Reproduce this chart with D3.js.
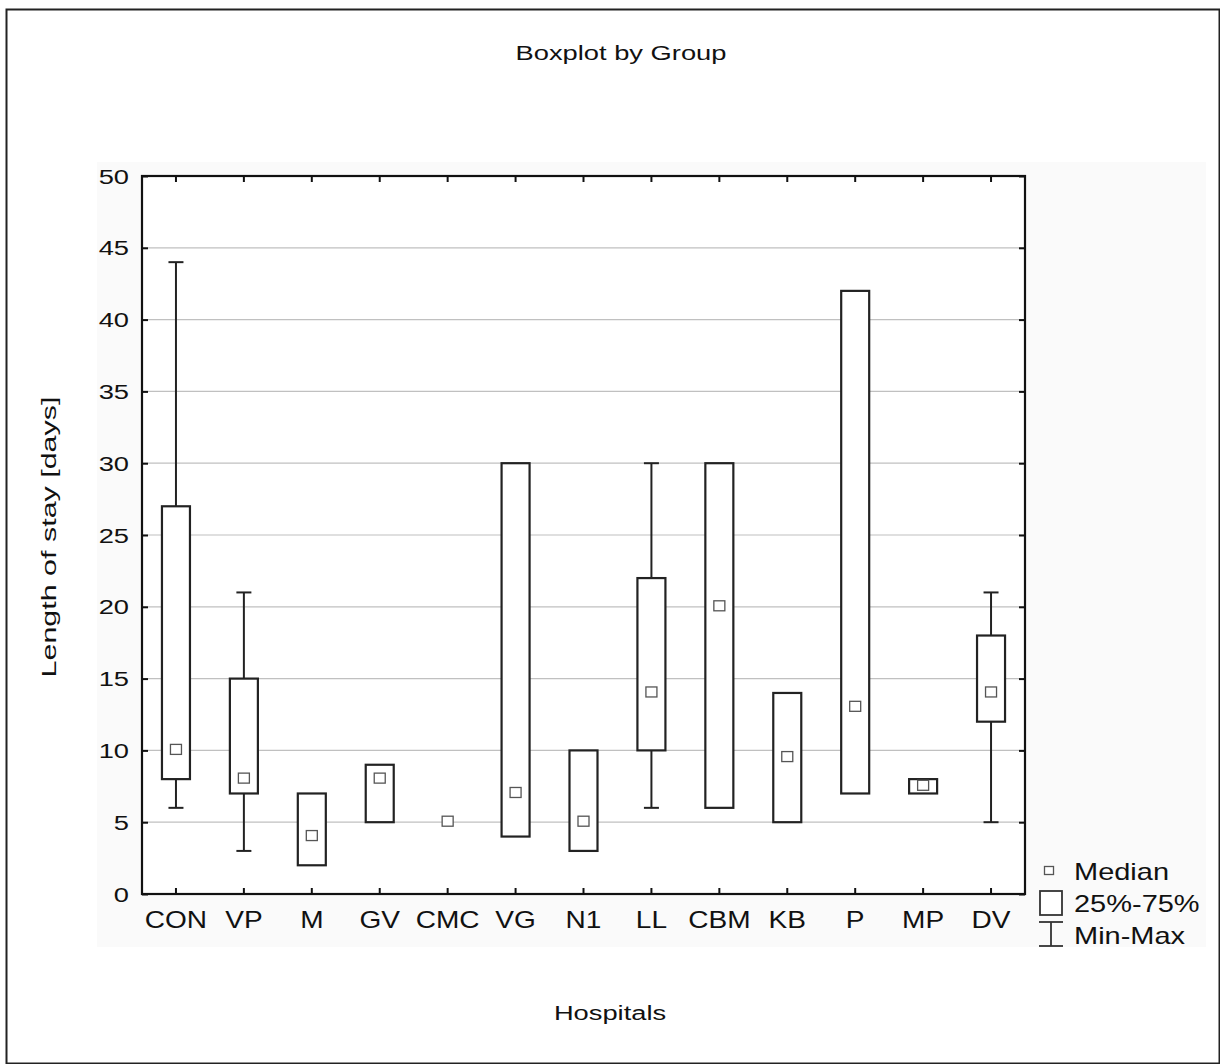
<!DOCTYPE html>
<html><head><meta charset="utf-8">
<script src="https://cdn.jsdelivr.net/npm/d3@7"></script>
<style>body{margin:0;background:#fff}svg{display:block}text{font-family:"Liberation Sans",Arial,sans-serif;fill:#111}</style>
</head><body>
<script>
const categories = ["CON","VP","M","GV","CMC","VG","N1","LL","CBM","KB","P","MP","DV"];
const minVals    = [6, 3, 2, 5, 5, 4, 3, 6, 6, 5, 7, 7, 5];
const q1Vals     = [8, 7, 2, 5, 5, 4, 3, 10, 6, 5, 7, 7, 12];
const medianVals = [10, 8, 4, 8, 5, 7, 5, 14, 20, 9.5, 13, 7.5, 14];
const q3Vals     = [27, 15, 7, 9, 5, 30, 10, 22, 30, 14, 42, 8, 18];
const maxVals    = [44, 21, 7, 9, 5, 30, 10, 30, 30, 14, 42, 8, 21];
const yTicks = [0,5,10,15,20,25,30,35,40,45,50];
const legendLabels = ["Median","25%-75%","Min-Max"];

const W=1220,H=1064;
const svg=d3.select("body").append("svg").attr("width",W).attr("height",H);
const m={l:142,r:1025,t:176,b:894};

svg.append("rect").attr("x",6.5).attr("y",9.5).attr("width",1213).attr("height",1054)
  .attr("fill","#fff").attr("stroke","#222").attr("stroke-width",2);
svg.append("rect").attr("x",97).attr("y",162).attr("width",1109).attr("height",785).attr("fill","#fafafa");
svg.append("rect").attr("x",m.l).attr("y",m.t).attr("width",m.r-m.l).attr("height",m.b-m.t).attr("fill","#fff");

const x=d3.scaleBand().domain(categories).range([m.l,m.r]);
const y=d3.scaleLinear().domain([0,50]).range([m.b,m.t]);

// grid
svg.append("g").selectAll("line").data(yTicks.filter(d=>d>0&&d<50)).join("line")
  .attr("x1",m.l).attr("x2",m.r).attr("y1",d=>y(d)).attr("y2",d=>y(d))
  .attr("stroke","#c0c0c0").attr("stroke-width",1.2);

// axes
const tickStyle=g=>{g.select(".domain").remove();g.selectAll(".tick line").attr("stroke","#111").attr("stroke-width",2);g.selectAll("text").remove();};
svg.append("g").attr("transform",`translate(0,${m.b})`).call(d3.axisTop(x).tickSize(6)).call(tickStyle);
svg.append("g").attr("transform",`translate(0,${m.t})`).call(d3.axisBottom(x).tickSize(6)).call(tickStyle);
svg.append("g").attr("transform",`translate(${m.l},0)`).call(d3.axisRight(y).tickValues(yTicks).tickSize(6)).call(tickStyle);
svg.append("g").attr("transform",`translate(${m.r},0)`).call(d3.axisLeft(y).tickValues(yTicks).tickSize(6)).call(tickStyle);

// tick labels (reference text is horizontally stretched)
svg.append("g").selectAll("text").data(yTicks).join("text")
  .attr("transform",d=>`translate(${m.l-13},${y(d)+7.5}) scale(1.3,1)`).attr("text-anchor","end").attr("font-size",21).text(d=>d);
svg.append("g").selectAll("text").data(categories).join("text")
  .attr("transform",d=>`translate(${x(d)+x.bandwidth()/2},928) scale(1.22,1)`).attr("text-anchor","middle").attr("font-size",23).text(d=>d);

// boxes
const bw=28, cw=15;
const g=svg.append("g");
categories.forEach((c,i)=>{
  const cx=x(c)+x.bandwidth()/2;
  if(maxVals[i]>q3Vals[i]){
    g.append("line").attr("x1",cx).attr("x2",cx).attr("y1",y(q3Vals[i])).attr("y2",y(maxVals[i])).attr("stroke","#222").attr("stroke-width",2);
    g.append("line").attr("x1",cx-cw/2).attr("x2",cx+cw/2).attr("y1",y(maxVals[i])).attr("y2",y(maxVals[i])).attr("stroke","#222").attr("stroke-width",2);
  }
  if(minVals[i]<q1Vals[i]){
    g.append("line").attr("x1",cx).attr("x2",cx).attr("y1",y(q1Vals[i])).attr("y2",y(minVals[i])).attr("stroke","#222").attr("stroke-width",2);
    g.append("line").attr("x1",cx-cw/2).attr("x2",cx+cw/2).attr("y1",y(minVals[i])).attr("y2",y(minVals[i])).attr("stroke","#222").attr("stroke-width",2);
  }
  if(q3Vals[i]>q1Vals[i]){
    g.append("rect").attr("x",cx-bw/2).attr("y",y(q3Vals[i])).attr("width",bw).attr("height",y(q1Vals[i])-y(q3Vals[i]))
      .attr("fill","#fff").attr("stroke","#222").attr("stroke-width",2.2);
  }
  g.append("rect").attr("x",cx-5.5).attr("y",y(medianVals[i])-6).attr("width",11).attr("height",10)
    .attr("fill","#fff").attr("stroke","#555").attr("stroke-width",1.3);
});

// plot frame
svg.append("rect").attr("x",m.l).attr("y",m.t).attr("width",m.r-m.l).attr("height",m.b-m.t)
  .attr("fill","none").attr("stroke","#111").attr("stroke-width",2.2);

// titles
svg.append("text").attr("transform","translate(621,60) scale(1.3,1)").attr("text-anchor","middle").attr("font-size",21).text("Boxplot by Group");
svg.append("text").attr("transform","translate(56,537) rotate(-90) scale(1.45,1)").attr("text-anchor","middle").attr("font-size",21).text("Length of stay [days]");
svg.append("text").attr("transform","translate(610,1020) scale(1.3,1)").attr("text-anchor","middle").attr("font-size",21).text("Hospitals");

// legend
const lg=svg.append("g");
lg.append("rect").attr("x",1044.5).attr("y",866.5).attr("width",9).attr("height",8).attr("fill","#fff").attr("stroke","#555").attr("stroke-width",1.3);
lg.append("rect").attr("x",1040).attr("y",891).attr("width",22).attr("height",24).attr("fill","#fff").attr("stroke","#333").attr("stroke-width",1.8);
lg.append("line").attr("x1",1039).attr("x2",1063).attr("y1",922).attr("y2",922).attr("stroke","#333").attr("stroke-width",1.8);
lg.append("line").attr("x1",1039).attr("x2",1063).attr("y1",946).attr("y2",946).attr("stroke","#333").attr("stroke-width",1.8);
lg.append("line").attr("x1",1051).attr("x2",1051).attr("y1",922).attr("y2",946).attr("stroke","#333").attr("stroke-width",1.8);
lg.selectAll("text.l").data(legendLabels).join("text").attr("class","l")
  .attr("transform",(d,i)=>`translate(1074,${880+i*32}) scale(1.26,1)`).attr("font-size",23).text(d=>d);
</script>
</body></html>
